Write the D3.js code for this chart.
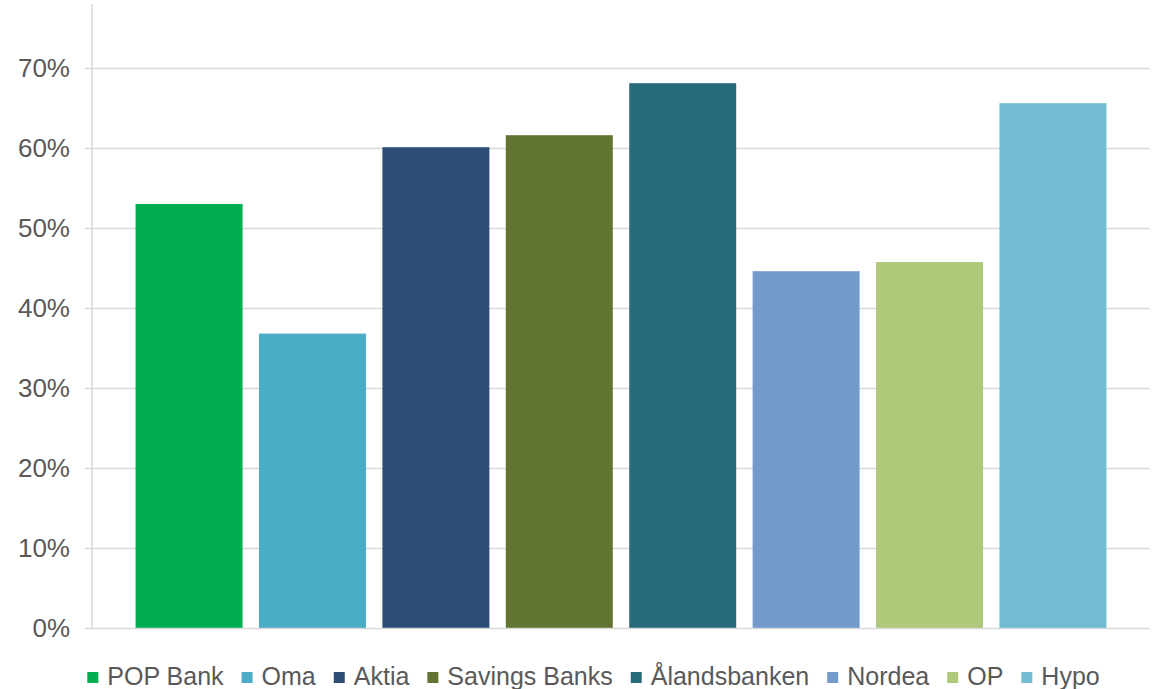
<!DOCTYPE html>
<html>
<head>
<meta charset="utf-8">
<script src="https://cdn.jsdelivr.net/npm/d3@7"></script>
<style>
  body { margin: 0; background: #fff; }
  text { font-family: "Liberation Sans", Arial, sans-serif; fill: #595959; }
</style>
</head>
<body>
<div id="chart"></div>
<script>
// Data
const banks = ["POP Bank", "Oma", "Aktia", "Savings Banks", "Ålandsbanken", "Nordea", "OP", "Hypo"];
const shares = [0.530, 0.368, 0.601, 0.616, 0.681, 0.446, 0.4575, 0.656];
const barColors = ["#00AD50", "#4BACC6", "#2C4D75", "#617431", "#276A7C", "#729ACA", "#AFC97A", "#71BCD1"];
const yTicks = [0, 0.1, 0.2, 0.3, 0.4, 0.5, 0.6, 0.7];

const width = 1163, height = 689;
const plot = { left: 92, right: 1150, top: 4, bottom: 628 };

const svg = d3.select("#chart")
  .append("svg")
  .attr("width", width)
  .attr("height", height);

// Scales
const x = d3.scaleBand()
  .domain(banks)
  .range([plot.left, plot.right])
  .paddingInner(0.133)
  .paddingOuter(0.353);

const y = d3.scaleLinear()
  .domain([0, 0.78])
  .range([plot.bottom, plot.top]);

// Gridlines
svg.append("g")
  .selectAll("line")
  .data(yTicks.slice(1))
  .join("line")
  .attr("x1", plot.left)
  .attr("x2", plot.right)
  .attr("y1", d => Math.round(y(d)) + 0.5)
  .attr("y2", d => Math.round(y(d)) + 0.5)
  .attr("stroke", "#d9d9d9")
  .attr("stroke-width", 1.5);

// Y axis
const yAxis = svg.append("g")
  .attr("transform", `translate(${plot.left},0)`)
  .call(d3.axisLeft(y)
    .tickValues(yTicks)
    .tickFormat(d3.format(".0%"))
    .tickSize(7)
    .tickPadding(15));
yAxis.select(".domain").attr("stroke", "#d9d9d9").attr("stroke-width", 1.5)
  .attr("d", `M0,${plot.top}V${plot.bottom}`);
yAxis.selectAll(".tick line").attr("stroke", "#d9d9d9").attr("stroke-width", 1.5);
yAxis.selectAll(".tick text")
  .attr("font-size", 26)
  .style("font-family", "'Liberation Sans', Arial, sans-serif")
  .attr("fill", "#595959");

// Bars
svg.append("g")
  .selectAll("rect")
  .data(banks)
  .join("rect")
  .attr("x", d => x(d))
  .attr("y", (d, i) => y(shares[i]))
  .attr("width", x.bandwidth())
  .attr("height", (d, i) => y(0) - y(shares[i]))
  .attr("fill", (d, i) => barColors[i]);

// X axis baseline
svg.append("line")
  .attr("x1", plot.left)
  .attr("x2", plot.right)
  .attr("y1", plot.bottom + 0.5)
  .attr("y2", plot.bottom + 0.5)
  .attr("stroke", "#d9d9d9")
  .attr("stroke-width", 1.5);

// Legend
const legend = svg.append("g");
const items = legend.selectAll("g")
  .data(banks)
  .join("g");
items.append("rect")
  .attr("width", 11)
  .attr("height", 11)
  .attr("y", -13)
  .attr("fill", (d, i) => barColors[i]);
items.append("text")
  .attr("x", 20)
  .attr("font-size", 25)
  .text(d => d);

const itemGap = 18;
let cursor = 0;
items.each(function () {
  const g = d3.select(this);
  g.attr("transform", `translate(${cursor},0)`);
  cursor += 20 + g.select("text").node().getComputedTextLength() + itemGap;
});
const legendWidth = cursor - itemGap;
legend.attr("transform", `translate(${593.5 - legendWidth / 2},685)`);
</script>
</body>
</html>
